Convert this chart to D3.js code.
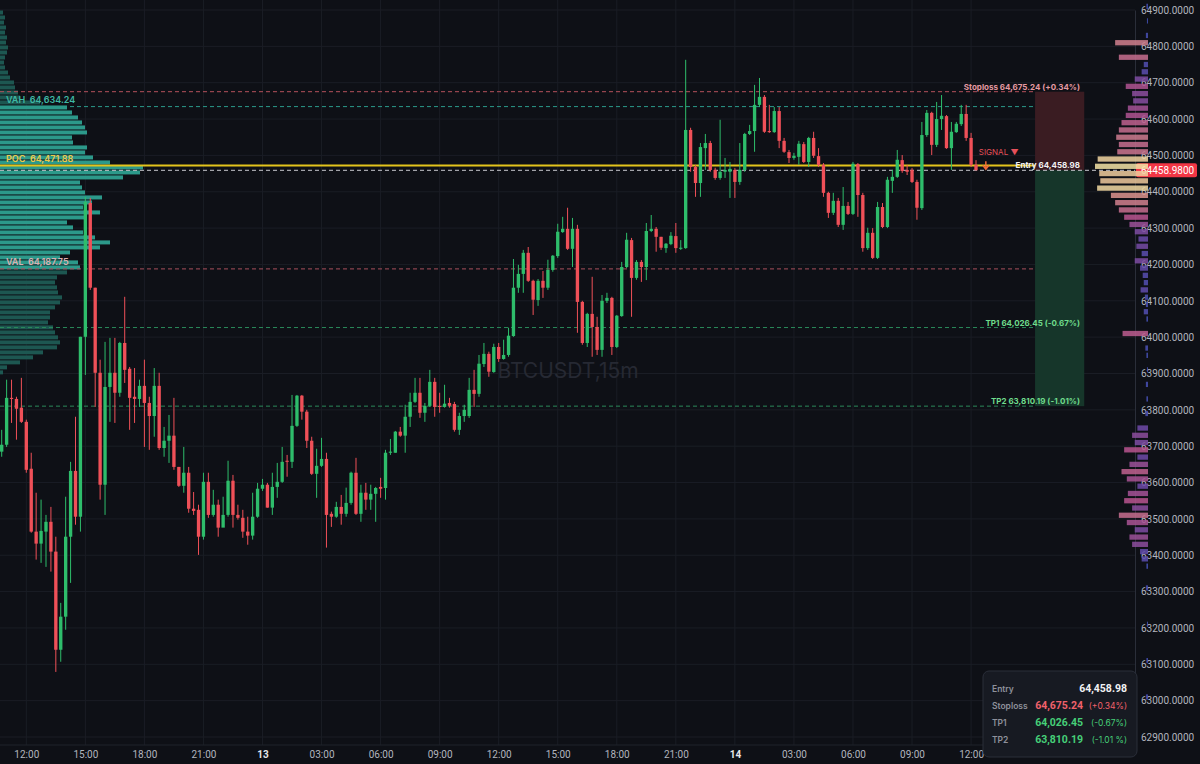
<!DOCTYPE html>
<html>
<head>
<meta charset="utf-8">
<script src="https://cdn.jsdelivr.net/npm/d3@7"></script>
<style>
  html, body { margin: 0; background: #0e1016; }
  svg { display: block; font-family: Inter, Roboto, "Noto Sans", sans-serif; }
  text { white-space: pre; }
</style>
</head>
<body>
<svg id="chart" width="1200" height="764"></svg>
<script>
// ---- data (BTCUSDT 15m) ----
const startTime = new Date(2024, 4, 12, 10, 45);
const opens = [63685,63704,63833,63830,63806,63767,63638,63465,63432,63465,63492,63410,63140,63231,63451,63632,63506,64001,64369,64136,
63902,63594,63863,63902,63847,63984,63913,63836,63830,63866,63819,63783,63866,63695,63715,63729,63643,63591,63627,63528,
63525,63451,63602,63511,63539,63476,63511,63605,63511,63503,63465,63454,63506,63583,63594,63531,63588,63602,63660,63657,
63756,63839,63795,63715,63624,63646,63665,63514,63506,63533,63514,63544,63627,63514,63572,63553,63569,63588,63585,63682,
63682,63740,63729,63781,63822,63847,63792,63811,63877,63811,63808,63819,63816,63745,63783,63783,63855,63844,63926,63954,
63904,63973,63940,63951,64003,64136,64174,64232,64155,64102,64155,64136,64185,64223,64289,64298,64243,64298,64097,63984,
64064,64028,63965,64100,64108,63973,64058,64193,64267,64163,64207,64193,64292,64298,64276,64245,64256,64278,64243,64245,
64570,64468,64424,64520,64534,64460,64438,64455,64455,64460,64427,64460,64559,64567,64639,64661,64567,64564,64622,64540,
64509,64493,64496,64531,64482,64548,64498,64474,64397,64342,64375,64309,64361,64339,64476,64391,64245,64287,64218,64358,
64303,64430,64441,64487,64460,64460,64427,64355,64556,64617,64529,64600,64608,64520,64564,64586,64614,64548,64474];
const highs = [63745,63883,63883,63836,63888,63773,63682,63572,63553,63511,63533,63451,63269,63561,63657,63781,64001,64386,64383,64136,
63938,63987,63998,63998,63987,64111,63918,63915,63883,63938,63836,63915,63902,63753,63786,63833,63643,63698,63643,63574,
63539,63627,63627,63580,63553,63561,63660,63621,63539,63525,63506,63572,63599,63610,63599,63627,63654,63698,63676,63841,
63841,63841,63800,63726,63693,63723,63682,63520,63547,63566,63586,63630,63668,63594,63599,63594,63588,63613,63690,63720,
63742,63753,63814,63847,63888,63888,63819,63910,63888,63847,63869,63833,63822,63792,63814,63888,63910,63951,63984,63960,
63982,63984,63993,64026,64215,64199,64240,64248,64158,64160,64182,64213,64226,64312,64331,64356,64328,64309,64100,64067,
64166,64056,64116,64122,64111,64061,64207,64287,64273,64212,64212,64314,64336,64303,64276,64259,64289,64314,64267,64763,
64576,64474,64534,64559,64540,64466,64598,64493,64482,64465,64534,64562,64584,64694,64713,64666,64639,64633,64633,64548,
64515,64507,64540,64537,64551,64565,64520,64479,64400,64397,64383,64413,64372,64482,64479,64397,64301,64300,64372,64369,
64441,64460,64515,64501,64474,64465,64433,64592,64625,64620,64647,64666,64611,64592,64592,64639,64639,64562,64487];
const lows = [63671,63698,63764,63718,63764,63627,63462,63388,63379,63368,63355,63079,63107,63195,63324,63484,63465,63896,64130,63808,
63553,63511,63767,63764,63836,63874,63745,63764,63808,63698,63690,63726,63690,63671,63654,63635,63588,63572,63517,63511,
63401,63443,63503,63506,63451,63498,63506,63476,63498,63448,63429,63443,63503,63577,63531,63511,63558,63599,63616,63640,
63753,63773,63695,63621,63558,63643,63421,63478,63503,63484,63506,63539,63511,63492,63525,63525,63492,63558,63553,63676,
63682,63726,63682,63753,63819,63778,63767,63808,63781,63792,63806,63806,63740,63731,63767,63778,63808,63836,63918,63891,
63902,63932,63938,63946,64001,64122,64122,64152,64061,64086,64108,64130,64180,64218,64287,64240,64193,64012,63979,63973,
63946,63951,63946,64094,63951,63970,64056,64190,64056,64158,64152,64157,64289,64235,64240,64232,64253,64232,64240,64243,
64455,64386,64386,64460,64455,64433,64433,64438,64383,64383,64419,64455,64556,64510,64633,64562,64562,64562,64520,64507,
64479,64488,64474,64479,64468,64493,64468,64386,64328,64336,64303,64295,64336,64336,64331,64235,64240,64215,64215,64300,
64300,64397,64438,64452,64446,64424,64323,64350,64551,64501,64523,64570,64518,64460,64562,64581,64540,64468,64460];
const closes = [63704,63833,63830,63803,63767,63635,63465,63432,63467,63492,63410,63140,63231,63451,63632,63506,64001,64372,64136,63902,
63594,63863,63902,63847,63984,63910,63833,63830,63866,63819,63783,63866,63695,63715,63729,63643,63591,63627,63528,63522,
63451,63602,63511,63539,63476,63511,63605,63511,63503,63465,63454,63506,63583,63594,63531,63588,63602,63657,63657,63756,
63839,63795,63715,63624,63646,63665,63511,63506,63533,63514,63544,63627,63514,63572,63553,63569,63585,63583,63682,63685,
63740,63729,63781,63822,63847,63792,63811,63877,63808,63808,63817,63811,63745,63783,63800,63855,63844,63927,63954,63905,
63973,63940,63951,64004,64136,64174,64232,64155,64103,64155,64136,64185,64224,64290,64298,64243,64298,64097,63984,64064,
64028,63965,64100,64108,63973,64059,64193,64268,64163,64207,64193,64292,64298,64276,64246,64257,64279,64245,64246,64570,
64468,64424,64523,64534,64460,64438,64455,64460,64463,64427,64460,64559,64567,64639,64661,64565,64564,64622,64540,64510,
64493,64499,64532,64482,64548,64499,64474,64397,64342,64375,64309,64361,64339,64477,64391,64245,64287,64218,64358,64303,
64433,64441,64488,64457,64455,64427,64356,64556,64617,64529,64600,64609,64520,64565,64587,64614,64548,64474,64459];

const priceTicks = d3.range(62900, 64901, 100);
const entry = 64458.98, stoploss = 64675.24, tp1 = 64026.45, tp2 = 63810.19;
const poc = 64471.88, vah = 64634.24, val = 64187.75;
const slPct = "(+0.34%)", tp1Pct = "(-0.67%)", tp2Pct = "(-1.01%)", tp2PctBox = "(-1.01 %)";

// fixed range volume profile (left), rows of 13.75 from 64900 down
const leftRowSize = 13.75, leftTop = 64900;
const leftVolumes = [3,5,4,6,5,7,6,8,7,5,4,5,8,10,14,15,18,20,40,67,
72,78,82,85,87,72,73,87,85,93,110,143,140,123,80,82,85,102,92,83,
100,85,67,73,83,95,110,100,70,60,78,80,67,57,55,57,58,62,60,55,
50,50,48,53,55,58,60,57,43,33,20,7,3];

// session volume profile (right), bins of 20
const rightBinSize = 20;
const rightLevels = [64900,64860,64820,64800,64760,64740,64720,64700,64680,64660,64640,64620,64600,64580,64560,64540,64520,64500,64480,64460,
64440,64420,64400,64380,64360,64340,64320,64300,64280,64260,64240,64220,64200,64180,64160,64140,64120,64100,64080,64060,
64040,64000,63960,63940,63900,63860,63820,63780,63740,63720,63700,63680,63660,63640,63620,63600,63580,63560,63540,63520,
63500,63480,63460,63440,63420,63400,63380,63360,63300,63200,63100,63000];
const rightVolumes = [3,2,4,62,55,8,12,25,42,30,28,38,42,50,55,60,55,58,95,100,
92,90,96,70,62,55,45,35,25,18,22,12,25,15,10,8,14,6,4,8,
3,48,5,3,2,4,3,5,20,30,25,45,20,35,50,40,20,38,45,30,
55,40,25,35,30,15,12,3,4,2,3,4];

// ---- layout ----
const plotRight = 1135, plotBottom = 745;
const green = "#2ebd6b", red = "#ef5058";
const svg = d3.select("#chart");
svg.append("rect").attr("width", 1200).attr("height", 764).attr("fill", "#0e1016");

const times = opens.map((d, i) => d3.timeMinute.offset(startTime, i * 15));
const x = d3.scaleTime().domain([times[0], times[times.length - 1]]).range([1.7, 976]);
const y = d3.scaleLinear().domain([62900, 64900]).range([737, 10]);
const barStep = x(times[1]) - x(times[0]);
const timeTicks = x.ticks(d3.timeHour.every(3));

// grid
const grid = svg.append("g");
grid.selectAll(".vg").data(timeTicks).enter().append("line")
  .attr("x1", d => x(d)).attr("x2", d => x(d)).attr("y1", 0).attr("y2", plotBottom)
  .attr("stroke", "#1a1d25");
grid.selectAll(".hg").data(priceTicks).enter().append("line")
  .attr("x1", 0).attr("x2", plotRight).attr("y1", d => y(d)).attr("y2", d => y(d))
  .attr("stroke", "#1a1d25");

// watermark
svg.append("text").attr("x", 568).attr("y", 378).attr("text-anchor", "middle")
  .attr("font-size", 21).attr("fill", "#262933").text("BTCUSDT,15m");

// left volume profile
const lw = d3.scaleLinear().domain([0, d3.max(leftVolumes)]).range([0, 143]);
svg.append("g").selectAll("rect").data(leftVolumes).enter().append("rect")
  .attr("x", 0)
  .attr("y", (d, k) => y(leftTop - leftRowSize * k) + 0.5)
  .attr("width", d => lw(d))
  .attr("height", (d, k) => y(leftTop - leftRowSize * (k + 1)) - y(leftTop - leftRowSize * k) - 1)
  .attr("fill", (d, k) => {
    const mid = leftTop - leftRowSize * (k + 0.5);
    return (mid <= vah && mid >= val) ? "#2c998a" : "#1d5751";
  });

// position boxes
const lastT = times[times.length - 1];
const boxX0 = x(d3.timeMinute.offset(lastT, 12 * 15));
const boxX1 = x(d3.timeMinute.offset(lastT, 22 * 15));
svg.append("rect").attr("x", boxX0).attr("width", boxX1 - boxX0)
  .attr("y", y(stoploss)).attr("height", y(entry) - y(stoploss)).attr("fill", "#3a1c22");
svg.append("rect").attr("x", boxX0).attr("width", boxX1 - boxX0)
  .attr("y", y(entry)).attr("height", y(tp2) - y(entry)).attr("fill", "#16362a");

// level lines
const levelLines = [
  { p: stoploss, c: "#b5505c", dash: "4,3", w: 1, x1: boxX0 },
  { p: vah, c: "#2a9a8a", dash: "4,3", w: 1, x1: boxX0 },
  { p: val, c: "#a8505c", dash: "4,3", w: 1, x1: boxX0 },
  { p: tp1, c: "#2a8a5a", dash: "4,3", w: 1, x1: boxX0 },
  { p: tp2, c: "#2a8a5a", dash: "4,3", w: 1, x1: boxX0 },
  { p: entry, c: "#c9c9cf", dash: "4,3", w: 1, x1: plotRight },
  { p: poc, c: "#e3c41c", dash: null, w: 2, x1: boxX0 }
];
svg.append("g").selectAll("line").data(levelLines).enter().append("line")
  .attr("x1", 0).attr("x2", d => d.x1)
  .attr("y1", d => y(d.p)).attr("y2", d => y(d.p))
  .attr("stroke", d => d.c).attr("stroke-width", d => d.w)
  .attr("stroke-dasharray", d => d.dash);

// candles
const cg = svg.append("g");
const candles = opens.map((o, i) => ({ t: times[i], o, h: highs[i], l: lows[i], c: closes[i] }));
cg.selectAll(".wick").data(candles).enter().append("line")
  .attr("x1", d => x(d.t)).attr("x2", d => x(d.t))
  .attr("y1", d => y(d.h)).attr("y2", d => y(d.l))
  .attr("stroke", d => d.c >= d.o ? green : red).attr("stroke-width", 1);
cg.selectAll(".body").data(candles).enter().append("rect")
  .attr("x", d => x(d.t) - barStep * 0.34)
  .attr("width", barStep * 0.68)
  .attr("y", d => y(Math.max(d.o, d.c)))
  .attr("height", d => Math.max(1, Math.abs(y(d.o) - y(d.c))))
  .attr("fill", d => d.c >= d.o ? green : red);

// left labels
const fmt = d3.format(",.2f");
const leftLabels = [
  { t: "VAH  " + fmt(vah), p: vah, c: "#3fb8a4" },
  { t: "POC  " + fmt(poc), p: poc, c: "#ecc94b" },
  { t: "VAL  " + fmt(val), p: val, c: "#d8b0b2" }
];
svg.append("g").selectAll("text").data(leftLabels).enter().append("text")
  .attr("x", 6).attr("y", d => y(d.p) - 4)
  .attr("font-size", 9).attr("font-weight", 600).attr("fill", d => d.c).text(d => d.t);

// right labels
const rightLabels = [
  { t: "Stoploss " + fmt(stoploss) + " " + slPct, p: stoploss, c: "#e59aa2" },
  { t: "Entry " + fmt(entry), p: entry, c: "#f2f2f4" },
  { t: "TP1 " + fmt(tp1) + " " + tp1Pct, p: tp1, c: "#6fdc8c" },
  { t: "TP2 " + fmt(tp2) + " " + tp2Pct, p: tp2, c: "#6fdc8c" }
];
svg.append("g").selectAll("text").data(rightLabels).enter().append("text")
  .attr("x", 1080).attr("y", d => y(d.p) - 2).attr("text-anchor", "end")
  .attr("font-size", 8).attr("font-weight", 700).attr("fill", d => d.c).text(d => d.t);

// signal marker
const sigX = x(lastT) + barStep * 2;
svg.append("text").attr("x", sigX - 7).attr("y", y(entry) - 15)
  .attr("font-size", 8).attr("fill", "#e5505a").text("SIGNAL ▼");
svg.append("path")
  .attr("d", `M${sigX},${y(entry) - 9} L${sigX},${y(entry) - 2} M${sigX - 3},${y(entry) - 5} L${sigX},${y(entry) - 1} L${sigX + 3},${y(entry) - 5}`)
  .attr("stroke", "#f26a3a").attr("stroke-width", 1.5).attr("fill", "none");

// right axis
const yAxis = svg.append("g").attr("transform", `translate(${plotRight},0)`)
  .call(d3.axisRight(y).tickValues(priceTicks).tickSize(0).tickPadding(6).tickFormat(d3.format(".4f")));
yAxis.select(".domain").attr("stroke", "#2a2e39");
yAxis.selectAll("text").attr("fill", "#b2b5be").attr("font-size", 10).attr("font-family", "Roboto, sans-serif");

// current price label
svg.append("rect").attr("x", plotRight + 1).attr("y", y(entry) - 7).attr("width", 61).attr("height", 14)
  .attr("rx", 2).attr("fill", "#f23645");
svg.append("text").attr("x", plotRight + 6).attr("y", y(entry) + 3.5)
  .attr("font-size", 10).attr("font-family", "Roboto, sans-serif").attr("fill", "#ffffff")
  .text(d3.format(".4f")(entry));

// session volume profile (right)
const rw = d3.scaleLinear().domain([0, d3.max(rightVolumes)]).range([0, 53]);
const rc = d3.scaleLinear().domain([0, 20, 45, 75, 100])
  .range(["#3e52b8", "#6f4aa8", "#b8558f", "#e4a08e", "#f5e4a6"]);
svg.append("g").selectAll("rect").data(rightLevels).enter().append("rect")
  .attr("x", (d, i) => 1148 - rw(rightVolumes[i]))
  .attr("y", d => y(d + rightBinSize) + 1)
  .attr("width", (d, i) => rw(rightVolumes[i]))
  .attr("height", d => y(d) - y(d + rightBinSize) - 2)
  .attr("fill", (d, i) => rc(rightVolumes[i])).attr("opacity", 0.85);

// bottom axis
const xAxis = svg.append("g").attr("transform", `translate(0,${plotBottom})`)
  .call(d3.axisBottom(x).tickValues(timeTicks).tickSize(0).tickPadding(6)
    .tickFormat(d => d.getHours() === 0 ? d3.timeFormat("%-d")(d) : d3.timeFormat("%H:%M")(d)));
xAxis.select(".domain").attr("d", `M0,0H${plotRight}`).attr("stroke", "#1f222b");
xAxis.selectAll("text").attr("font-size", 10).attr("font-family", "Roboto, sans-serif")
  .attr("font-weight", d => d.getHours() === 0 ? 700 : 400)
  .attr("fill", d => d.getHours() === 0 ? "#e6e7ea" : "#b2b5be");

// info box
const box = svg.append("g").attr("transform", "translate(983,671)");
box.append("rect").attr("width", 154).attr("height", 86).attr("rx", 6)
  .attr("fill", "#171a22").attr("stroke", "#2a2e39");
const rows = [
  { k: "Entry", v: fmt(entry), pct: "", c: "#f2f2f4" },
  { k: "Stoploss", v: fmt(stoploss), pct: slPct, c: "#f0616b" },
  { k: "TP1", v: fmt(tp1), pct: tp1Pct, c: "#46cf78" },
  { k: "TP2", v: fmt(tp2), pct: tp2PctBox, c: "#46cf78" }
];
const row = box.selectAll(".row").data(rows).enter().append("g")
  .attr("transform", (d, i) => `translate(0,${21 + i * 17})`);
row.append("text").attr("x", 9).attr("font-size", 8.5).attr("font-weight", 600)
  .attr("fill", "#8e919b").text(d => d.k);
row.append("text").attr("x", d => d.pct ? 100 : 144).attr("text-anchor", "end")
  .attr("font-size", 10.5).attr("font-weight", 700).attr("font-family", "Roboto, sans-serif")
  .attr("fill", d => d.c).text(d => d.v);
row.append("text").attr("x", 144).attr("text-anchor", "end")
  .attr("font-size", 8.5).attr("fill", d => d.c).text(d => d.pct);
</script>
</body>
</html>
